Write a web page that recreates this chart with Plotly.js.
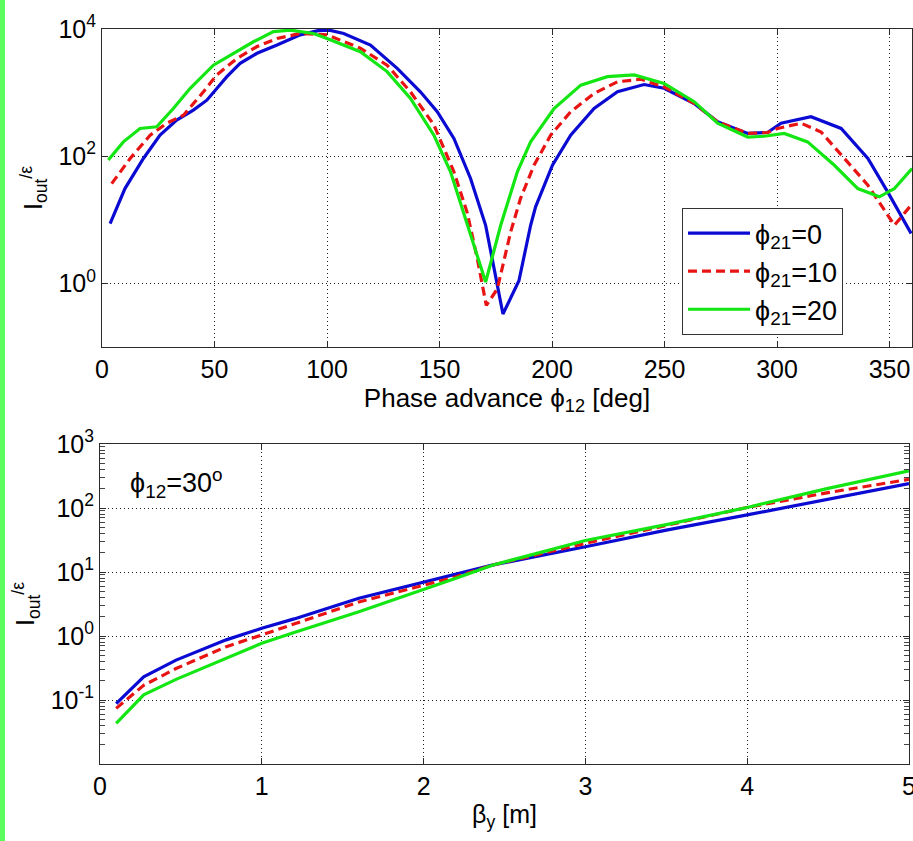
<!DOCTYPE html>
<html>
<head>
<meta charset="utf-8">
<script src="https://cdn.plot.ly/plotly-3.0.1.min.js"></script>
<style>html,body{margin:0;padding:0;background:#fff;}#chart{width:913px;height:841px;}</style>
</head>
<body>
<div id="chart"></div>
<script>
// ---- Top panel: I_out/eps vs phase advance phi12 ----
const phaseBlue = [3.6, 10.2, 18.4, 25.8, 33.2, 40.6, 46.6, 50.3, 55.5, 61.4, 68.9, 77.8, 88.1, 96, 101, 107.4, 119.3, 131.2, 141.5, 149, 156.4, 163.8, 170.5, 173.4, 178.2, 185.3, 190.5, 192.7, 200.2, 208.3, 218.7, 229.1, 240.9, 249.8, 263.2, 273.6, 287, 295.8, 301.8, 315.1, 328.5, 340.4, 349.3, 359.6];
const ioutBlue  = [8.7, 31, 92, 214, 370, 530, 760, 1100, 1780, 2880, 4150, 5600, 8100, 9400, 9600, 8500, 5600, 2400, 1030, 500, 190, 44.6, 8.2, 2.45, 0.33, 1.1, 8.2, 16, 72, 214, 563, 1030, 1340, 1170, 675, 347, 228, 236, 330, 417, 273, 92, 27, 6.1];

const phaseRed = [4.3, 12.5, 21.4, 28.8, 36.2, 45.1, 51, 60, 68.9, 77.8, 88.1, 100, 114.8, 126.7, 137.1, 147.5, 156.4, 162.3, 166.8, 170.8, 175.7, 181.6, 186, 192, 199.4, 208.3, 218.7, 229.1, 239.5, 249.8, 263.2, 273.6, 287, 295.8, 300.3, 310.7, 319.6, 330, 340.4, 352.2, 359.6];
const ioutRed  = [37, 92, 214, 330, 440, 1030, 1900, 3450, 5300, 7100, 8500, 8100, 5000, 2700, 1030, 310, 57, 13, 2.45, 0.45, 0.82, 6.4, 21.6, 72, 214, 500, 970, 1480, 1620, 1230, 675, 347, 228, 236, 273, 330, 240, 92, 35, 8.2, 17];

const phaseGreen = [2.8, 9.5, 16.9, 24.3, 31.7, 39.2, 49.5, 58.4, 67.3, 76.2, 83.7, 94, 100, 114.8, 126.7, 137.1, 147.5, 154.9, 162.3, 170.5, 177.2, 184.6, 190.5, 193.5, 200.9, 212.8, 224.6, 236.5, 249.8, 263.2, 273.6, 287, 294.3, 303.2, 313.6, 325.5, 335.9, 345.5, 352.2, 360];
const ioutGreen  = [87, 168, 273, 290, 563, 1170, 2700, 4150, 6300, 9100, 9600, 8500, 7100, 4400, 2140, 810, 214, 57, 8.2, 1.05, 8.2, 57, 168, 240, 563, 1310, 1780, 1900, 1390, 720, 330, 200, 206, 228, 168, 72, 31, 23, 31, 64];

// ---- Bottom panel: I_out/eps vs beta_y ----
const betaY      = [0.1, 0.27, 0.47, 0.78, 1.0, 1.2, 1.6, 2.2, 2.43, 3.0, 3.5, 4.0, 4.5, 5.0];
const betaBlue   = [0.088, 0.23, 0.42, 0.87, 1.32, 1.85, 3.9, 9.3, 12.9, 24.8, 45, 78, 136, 240];
const betaRed    = [0.074, 0.17, 0.31, 0.68, 1.04, 1.55, 3.4, 8.4, 12.9, 28, 54, 102, 174, 280];
const betaGreen  = [0.043, 0.12, 0.21, 0.45, 0.77, 1.13, 2.4, 8.0, 12.9, 31, 55, 102, 203, 380];

// ---- Labels ----
const seriesNames = ['ϕ<sub>21</sub>=0', 'ϕ<sub>21</sub>=10', 'ϕ<sub>21</sub>=20'];
const topXTickVals = [0, 50, 100, 150, 200, 250, 300, 350];
const topXTickText = ['0', '50', '100', '150', '200', '250', '300', '350'];
const topYTickVals = [1, 100, 10000];
const topYTickText = ['10<sup>0</sup>', '10<sup>2</sup>', '10<sup>4</sup>'];
const botXTickVals = [0, 1, 2, 3, 4, 5];
const botXTickText = ['0', '1', '2', '3', '4', '5'];
const botYTickVals = [0.1, 1, 10, 100, 1000];
const botYTickText = ['10<sup>-1</sup>', '10<sup>0</sup>', '10<sup>1</sup>', '10<sup>2</sup>', '10<sup>3</sup>'];
const botYMinorVals = [0.02, 0.03, 0.04, 0.05, 0.06, 0.07, 0.08, 0.09,
                       0.2, 0.3, 0.4, 0.5, 0.6, 0.7, 0.8, 0.9,
                       2, 3, 4, 5, 6, 7, 8, 9,
                       20, 30, 40, 50, 60, 70, 80, 90,
                       200, 300, 400, 500, 600, 700, 800, 900];

const FONT = 'Liberation Sans, Arial, Helvetica, sans-serif';
const cBlue = '#0a0ad2', cRed = '#e81414', cGreen = '#14e614';
const LW = 3.2;

const traces = [
  {x: phaseBlue, y: ioutBlue, name: seriesNames[0], mode: 'lines', line: {color: cBlue, width: LW}, xaxis: 'x', yaxis: 'y'},
  {x: phaseRed, y: ioutRed, name: seriesNames[1], mode: 'lines', line: {color: cRed, width: LW, dash: '9px,5px'}, xaxis: 'x', yaxis: 'y'},
  {x: phaseGreen, y: ioutGreen, name: seriesNames[2], mode: 'lines', line: {color: cGreen, width: LW}, xaxis: 'x', yaxis: 'y'},
  {x: betaY, y: betaBlue, name: seriesNames[0], showlegend: false, mode: 'lines', line: {color: cBlue, width: LW}, xaxis: 'x2', yaxis: 'y2'},
  {x: betaY, y: betaRed, name: seriesNames[1], showlegend: false, mode: 'lines', line: {color: cRed, width: LW, dash: '9px,5px'}, xaxis: 'x2', yaxis: 'y2'},
  {x: betaY, y: betaGreen, name: seriesNames[2], showlegend: false, mode: 'lines', line: {color: cGreen, width: LW}, xaxis: 'x2', yaxis: 'y2'}
];

const W = 913, H = 841;
const axCommon = {
  showline: true, linecolor: '#2a2a2a', linewidth: 1, mirror: 'ticks',
  ticks: 'inside', ticklen: 6, tickcolor: '#2a2a2a', tickwidth: 1,
  showgrid: true, gridcolor: '#222', griddash: '1px,3px', gridwidth: 1,
  zeroline: false, tickmode: 'array', ticklabeloverflow: 'allow',
  tickfont: {family: FONT, size: 25, color: '#000'},
  fixedrange: true
};
const yTitle = 'I<sub>out</sub><sup>/ε</sup>';

const layout = {
  width: W, height: H,
  margin: {l: 0, r: 0, t: 0, b: 0},
  paper_bgcolor: '#fff', plot_bgcolor: '#fff',
  font: {family: FONT, color: '#000', size: 24},
  showlegend: true,
  legend: {
    x: 682 / W, y: 1 - 208 / H, xanchor: 'left', yanchor: 'top',
    bgcolor: '#fff', bordercolor: '#333', borderwidth: 1,
    font: {family: FONT, size: 27, color: '#000'},
    itemwidth: 62,
    tracegroupgap: 0
  },
  xaxis: Object.assign({}, axCommon, {
    domain: [102 / W, 912 / W], range: [0, 360], anchor: 'y',
    tickvals: topXTickVals, ticktext: topXTickText,
    title: {text: 'Phase advance ϕ<sub>12</sub> [deg]', font: {family: FONT, size: 26}, standoff: 6}
  }),
  yaxis: Object.assign({}, axCommon, {
    domain: [1 - 347 / H, 1 - 29 / H], type: 'log', range: [-1, 4], anchor: 'x',
    tickvals: topYTickVals, ticktext: topYTickText,
    title: {text: yTitle, font: {family: FONT, size: 25}, standoff: 8}
  }),
  xaxis2: Object.assign({}, axCommon, {
    domain: [100 / W, 909 / W], range: [0, 5], anchor: 'y2',
    tickvals: botXTickVals, ticktext: botXTickText,
    title: {text: 'β<sub>y</sub> [m]', font: {family: FONT, size: 25}, standoff: 6}
  }),
  yaxis2: Object.assign({}, axCommon, {
    domain: [1 - 764 / H, 1 - 444 / H], type: 'log', range: [-2, 3], anchor: 'x2',
    tickvals: botYTickVals, ticktext: botYTickText,
    minor: {tickmode: 'array', tickvals: botYMinorVals, ticks: 'inside', ticklen: 5, tickcolor: '#444', tickwidth: 1, showgrid: false},
    title: {text: yTitle, font: {family: FONT, size: 25}, standoff: 8}
  }),
  annotations: [
    {xref: 'paper', yref: 'paper', x: 128 / W, y: 1 - 483 / H, xanchor: 'left', yanchor: 'middle',
     text: 'ϕ<sub>12</sub>=30<sup>o</sup>', showarrow: false, font: {family: FONT, size: 27, color: '#000'}}
  ],
  shapes: [
    {type: 'rect', xref: 'paper', yref: 'paper', x0: 0, x1: 5 / W, y0: 0, y1: 1, fillcolor: '#5cfc5c', line: {width: 0}, layer: 'above'}
  ]
};

Plotly.newPlot('chart', traces, layout, {displayModeBar: false, staticPlot: true});
</script>
</body>
</html>
